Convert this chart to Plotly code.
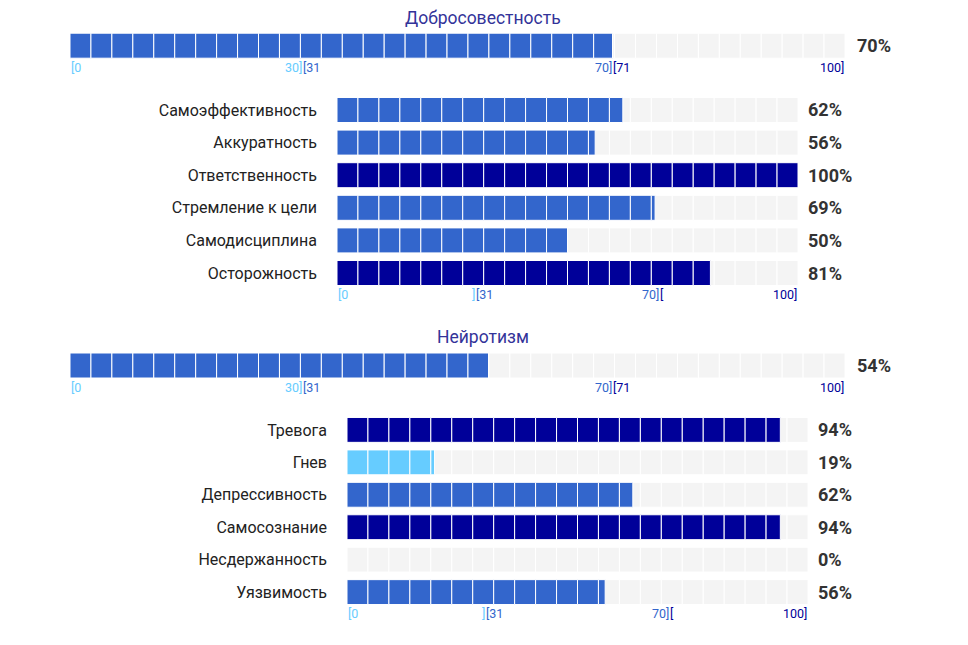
import plotly.graph_objects as go

W, H = 968, 645
PAD = 8  # отступ body в html-странице

# --- данные ---
consc_title = "Добросовестность"
consc_total = 70
consc_facets = ["Самоэффективность", "Аккуратность", "Ответственность",
                "Стремление к цели", "Самодисциплина", "Осторожность"]
consc_values = [62, 56, 100, 69, 50, 81]

neuro_title = "Нейротизм"
neuro_total = 54
neuro_facets = ["Тревога", "Гнев", "Депрессивность",
                "Самосознание", "Несдержанность", "Уязвимость"]
neuro_values = [94, 19, 62, 94, 0, 56]

# подписи шкалы: (значение, текст, цвет, якорь)
scale_main = [(0, "[0", "low", "left"), (30, "30]", "low", "right"), (30, "[31", "mid", "left"),
              (70, "70]", "mid", "right"), (70, "[71", "high", "left"), (100, "100]", "high", "right")]
scale_facet = [(0, "[0", "low", "left"), (30, "]", "low", "right"), (30, "[31", "mid", "left"),
               (70, "70]", "mid", "right"), (70, "[", "high", "left"), (100, "100]", "high", "right")]

COLORS = {"low": "#66ccff", "mid": "#3366cc", "high": "#000099"}
GRAY = "#f4f4f4"
FONT = "Roboto"


def level(v):
    if v <= 30:
        return "low"
    if v <= 70:
        return "mid"
    return "high"


def px_x(a, b):
    return [(a - PAD) / W, (b - PAD) / W]


def px_y(top, bottom):
    return [1 - (bottom - PAD) / H, 1 - (top - PAD) / H]


def segment_traces(cats, vals, n_seg, xa, ya):
    """Сегментированные полоски: серый фон + цветная заливка, каждый сегмент отдельным баром."""
    s = 100 / n_seg
    gy, gb, gx = [], [], []
    cy, cb, cx, cc = [], [], [], []
    for cat, v in zip(cats, vals):
        for i in range(n_seg):
            gy.append(cat); gb.append(i * s); gx.append(s)
            if v > i * s:
                cy.append(cat); cb.append(i * s); cx.append(min(s, v - i * s))
                cc.append(COLORS[level(v)])
    line = dict(color="white", width=1)
    bg = go.Bar(y=gy, x=gx, base=gb, orientation="h", xaxis=xa, yaxis=ya,
                marker=dict(color=GRAY, line=line), hoverinfo="skip", showlegend=False)
    fg = go.Bar(y=cy, x=cx, base=cb, orientation="h", xaxis=xa, yaxis=ya,
                marker=dict(color=cc, line=line), hoverinfo="skip", showlegend=False)
    return [bg, fg]


fig = go.Figure()

blocks = [
    dict(title=consc_title, total=consc_total, cats=consc_facets, vals=consc_values,
         ax=("x", "y", "x2", "y2"), title_y=18,
         main_dom=(px_x(70, 845), px_y(29.4, 62)),
         sub_dom=(px_x(337, 798), px_y(93.7, 289.3))),
    dict(title=neuro_title, total=neuro_total, cats=neuro_facets, vals=neuro_values,
         ax=("x3", "y3", "x4", "y4"), title_y=337,
         main_dom=(px_x(70, 845), px_y(349.2, 381.8)),
         sub_dom=(px_x(347, 808), px_y(413.7, 608.3))),
]

annotations = []
layout_axes = {}
for b in blocks:
    xa1, ya1, xa2, ya2 = b["ax"]
    main_cat = [b["title"]]
    for t in segment_traces(main_cat, [b["total"]], 37, xa1, ya1):
        fig.add_trace(t)
    for t in segment_traces(b["cats"], b["vals"], 22, xa2, ya2):
        fig.add_trace(t)

    for xa, ya, dom, labels in [(xa1, ya1, b["main_dom"], False), (xa2, ya2, b["sub_dom"], True)]:
        xkey = "xaxis" + xa[1:]
        ykey = "yaxis" + ya[1:]
        layout_axes[xkey] = dict(domain=dom[0], range=[0, 100], anchor=ya, showgrid=False,
                                 zeroline=False, showticklabels=False, fixedrange=True)
        layout_axes[ykey] = dict(domain=dom[1], anchor=xa, autorange="reversed", showgrid=False,
                                 zeroline=False, showticklabels=labels, ticks="",
                                 ticklabelstandoff=19,
                                 tickfont=dict(family=FONT, size=16, color="#222222"),
                                 fixedrange=True)

    # заголовок блока
    annotations.append(dict(text=b["title"], xref="paper", yref="paper", x=(483 - PAD) / W,
                            y=1 - (b["title_y"] - PAD) / H, xanchor="center", yanchor="middle",
                            showarrow=False, font=dict(family=FONT, size=17.5, color="#333399")))

    # проценты справа
    annotations.append(dict(text=f"{b['total']}%", xref=xa1, yref=ya1, x=100, y=b["title"],
                            xanchor="left", xshift=10, showarrow=False,
                            font=dict(family=FONT, size=18, color="#333333", weight="bold")))
    for cat, v in zip(b["cats"], b["vals"]):
        annotations.append(dict(text=f"{v}%", xref=xa2, yref=ya2, x=100, y=cat,
                                xanchor="left", xshift=8, showarrow=False,
                                font=dict(family=FONT, size=18, color="#333333", weight="bold")))

    # подписи шкалы
    for xa, ya, sc in [(xa1, ya1, scale_main), (xa2, ya2, scale_facet)]:
        for val, txt, lv, anchor in sc:
            inner = 0 < val < 100
            shift = 0
            if inner:
                shift = 0.5 if anchor == "right" else -0.5
            annotations.append(dict(text=txt, xref=xa, yref=ya + " domain", x=val, y=0,
                                    xanchor=anchor, yanchor="top", yshift=3, xshift=shift,
                                    showarrow=False, borderpad=0,
                                    font=dict(family=FONT, size=12.5, color=COLORS[lv])))

fig.update_layout(
    width=W, height=H,
    margin=dict(l=0, r=0, t=0, b=0),
    barmode="overlay",
    bargap=0.233,
    plot_bgcolor="white",
    paper_bgcolor="white",
    annotations=annotations,
    **layout_axes,
)

fig.write_html("out.html")
